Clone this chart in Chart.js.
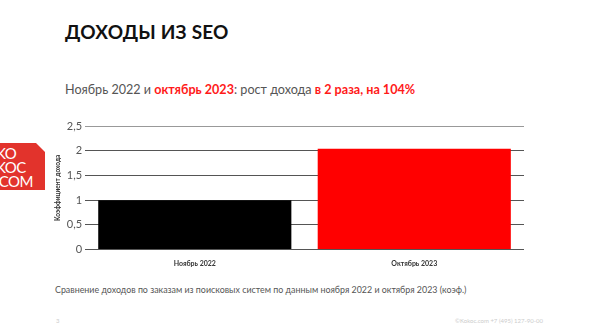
<!DOCTYPE html>
<html>
<head>
<meta charset="utf-8">
<script src="https://cdn.jsdelivr.net/npm/chart.js@4"></script>
<style>
  body { margin: 0; width: 600px; height: 334px; background: #fff; font-family: Lato, "Noto Sans", sans-serif; position: relative; overflow: hidden; }
  .titulo { position: absolute; left: 65px; top: 20px; font-size: 19px; font-weight: bold; color: #111; letter-spacing: 0.2px; }
  .subtitulo { position: absolute; left: 65px; top: 82px; font-size: 12.6px; color: #555; }
  .subtitulo b { color: #ff1a1a; }
  .logo { position: absolute; left: 0; top: 143px; width: 45px; height: 47px; background: #e2332c; color: #fff;
          clip-path: polygon(0 0, 36px 0, 45px 9px, 45px 47px, 0 47px); font-family: Lato, sans-serif; font-size: 15px; line-height: 14px; padding-top: 3px; box-sizing: border-box; }
  .logo div { margin-left: -4px; letter-spacing: -0.5px; }
  .pie { position: absolute; left: 55px; top: 284px; font-size: 8.9px; color: #555; }
  .num { position: absolute; left: 56px; top: 317px; font-size: 6px; color: #ccc; }
  .contacto { position: absolute; left: 455px; top: 317px; font-size: 6px; color: #ccc; }
  #grafico { position: absolute; left: 40px; top: 110px; }
</style>
</head>
<body>
<div class="titulo">ДОХОДЫ ИЗ SEO</div>
<div class="subtitulo">Ноябрь 2022 и <b>октябрь 2023</b>: рост дохода <b>в 2 раза, на 104%</b></div>
<div class="logo"><div>KO</div><div>KOC</div><div>.COM</div></div>
<div class="pie">Сравнение доходов по заказам из поисковых систем по данным ноября 2022 и октября 2023 (коэф.)</div>
<div class="num">3</div>
<div class="contacto">©Kokoc.com +7 (495) 127-90-00</div>
<canvas id="grafico" width="500" height="160"></canvas>
<script>
// Datos del gráfico
const periodos = ['Ноябрь 2022', 'Октябрь 2023'];
const coeficientes = [1, 2.04];
const coloresBarras = ['#000000', '#ff0000'];

const ctx = document.getElementById('grafico').getContext('2d');
new Chart(ctx, {
    type: 'bar',
    data: {
        labels: periodos,
        datasets: [{
            data: coeficientes,
            backgroundColor: coloresBarras,
            barPercentage: 0.88,
            categoryPercentage: 1
        }]
    },
    options: {
        responsive: false,
        animation: false,
        layout: { padding: { top: 16, right: 16, bottom: 0, left: 12 } },
        plugins: { legend: { display: false }, tooltip: { enabled: false } },
        scales: {
            x: {
                grid: { display: false },
                border: { display: false },
                ticks: { color: '#333', font: { size: 7, weight: 'bold', family: 'Lato' }, padding: 2 }
            },
            y: {
                min: 0,
                max: 2.5,
                ticks: {
                    stepSize: 0.5,
                    color: '#555',
                    font: { size: 11, family: 'Lato' },
                    padding: 3,
                    callback: function(v) { return String(v).replace('.', ','); }
                },
                grid: {
                    color: function(c) { return c.tick && c.tick.value === 2.5 ? '#999' : '#555'; },
                    lineWidth: 1,
                    tickLength: 0
                },
                border: { display: false },
                title: { display: true, text: 'Коэффициент дохода', color: '#333', font: { size: 6.5, weight: 'bold', family: 'Lato' }, padding: 2 }
            }
        }
    }
});
</script>
</body>
</html>
